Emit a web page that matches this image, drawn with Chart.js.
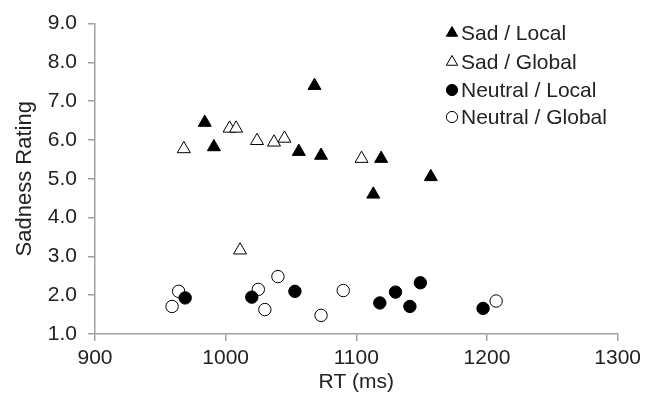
<!DOCTYPE html>
<html>
<head>
<meta charset="utf-8">
<script src="https://cdn.jsdelivr.net/npm/chart.js@4/dist/chart.umd.min.js"></script>
<style>
  html, body { margin: 0; padding: 0; background: #fff; }
  #wrap { width: 646px; height: 401px; }
</style>
</head>
<body>
<div id="wrap"><canvas id="c" width="646" height="401"></canvas></div>
<script>
// ---- data ----
const seriesNames = ["Sad / Local", "Sad / Global", "Neutral / Local", "Neutral / Global"];

const sadLocalRT     = [984, 991, 1068, 1056, 1073, 1119, 1113, 1157];
const sadLocalRating = [6.45, 5.82, 7.40, 5.70, 5.60, 5.52, 4.60, 5.05];

const sadGlobalRT     = [968, 1003, 1008, 1024, 1037, 1045, 1104, 1011];
const sadGlobalRating = [5.77, 6.30, 6.30, 5.98, 5.94, 6.04, 5.52, 3.16];

const neuLocalRT     = [969, 1020, 1053, 1118, 1130, 1141, 1149, 1197];
const neuLocalRating = [1.93, 1.95, 2.10, 1.80, 2.08, 1.71, 2.32, 1.66];

const neuGlobalRT     = [959, 964, 1025, 1030, 1040, 1073, 1090, 1207];
const neuGlobalRating = [1.71, 2.10, 2.15, 1.63, 2.48, 1.48, 2.12, 1.85];

const xTicks = [900, 1000, 1100, 1200, 1300];
const yTicks = [1, 2, 3, 4, 5, 6, 7, 8, 9];

function pts(xs, ys) { return xs.map((x, i) => ({ x: x, y: ys[i] })); }

const styles = [
  { pointStyle: 'triangle', bg: '#000000', r: 7.5, lr: 6.5 },
  { pointStyle: 'triangle', bg: '#ffffff', r: 7.5, lr: 6.5 },
  { pointStyle: 'circle',   bg: '#000000', r: 6.2, lr: 5.6 },
  { pointStyle: 'circle',   bg: '#ffffff', r: 6.2, lr: 5.6 }
];
const seriesData = [
  pts(sadLocalRT, sadLocalRating),
  pts(sadGlobalRT, sadGlobalRating),
  pts(neuLocalRT, neuLocalRating),
  pts(neuGlobalRT, neuGlobalRating)
];

const FONT = "'Liberation Sans', Arial, sans-serif";
const TEXT = '#222222';
const AXIS = '#a0a0a0';

const legendPlugin = {
  id: 'insideLegend',
  afterDraw(chart) {
    const ctx = chart.ctx;
    const rows = [33, 62, 90, 117];
    ctx.save();
    ctx.font = '21px ' + FONT;
    ctx.textBaseline = 'middle';
    ctx.textAlign = 'left';
    seriesNames.forEach((name, i) => {
      const s = styles[i];
      ctx.fillStyle = s.bg;
      ctx.strokeStyle = '#000';
      ctx.lineWidth = 1;
      Chart.helpers.drawPoint(ctx, { pointStyle: s.pointStyle, radius: s.lr, borderWidth: 1, rotation: 0 }, 452, rows[i]);
      ctx.fillStyle = TEXT;
      ctx.fillText(name, 461, rows[i] + 1);
    });
    ctx.restore();
  }
};

new Chart(document.getElementById('c'), {
  type: 'scatter',
  data: {
    datasets: seriesNames.map((n, i) => ({
      label: n,
      data: seriesData[i],
      pointStyle: styles[i].pointStyle,
      pointRadius: styles[i].r,
      pointHoverRadius: styles[i].r,
      backgroundColor: styles[i].bg,
      borderColor: '#000000',
      borderWidth: 1
    }))
  },
  options: {
    responsive: false,
    animation: false,
    events: [],
    layout: { padding: { left: 0, right: 28, top: 20, bottom: 0 } },
    plugins: { legend: { display: false }, tooltip: { enabled: false } },
    scales: {
      x: {
        type: 'linear',
        min: 900, max: 1300,
        afterBuildTicks: (s) => { s.ticks = xTicks.map(v => ({ value: v })); },
        afterFit: (s) => { s.height = 67; },
        ticks: { font: { family: FONT, size: 21 }, color: TEXT, padding: 5, maxRotation: 0, callback: (v) => String(v) },
        grid: { display: true, drawOnChartArea: false, drawTicks: true, tickLength: 7, color: AXIS, lineWidth: 1.5 },
        border: { display: true, color: AXIS, width: 1.5 },
        title: { display: true, text: 'RT (ms)', font: { family: FONT, size: 21 }, color: TEXT, padding: { top: 0, bottom: 6 } }
      },
      y: {
        type: 'linear',
        min: 1, max: 9,
        afterBuildTicks: (s) => { s.ticks = yTicks.map(v => ({ value: v })); },
        afterFit: (s) => { s.width = 95; },
        ticks: { font: { family: FONT, size: 21 }, color: TEXT, padding: 11, callback: (v) => Number(v).toFixed(1) },
        grid: { display: true, drawOnChartArea: false, drawTicks: true, tickLength: 7, color: AXIS, lineWidth: 1.5 },
        border: { display: true, color: AXIS, width: 1.5 },
        title: { display: true, text: 'Sadness Rating', font: { family: FONT, size: 22 }, color: TEXT, padding: { top: 12, bottom: 0 } }
      }
    }
  },
  plugins: [legendPlugin]
});
</script>
</body>
</html>
